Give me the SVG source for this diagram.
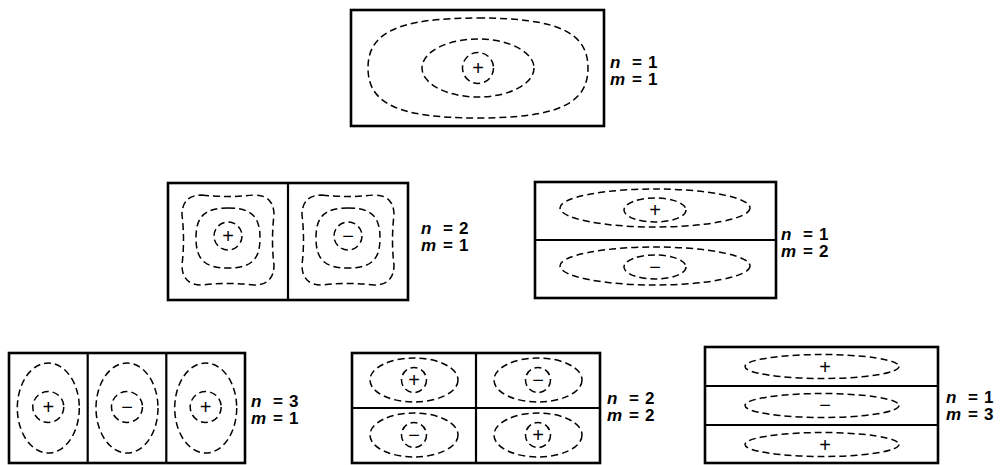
<svg xmlns="http://www.w3.org/2000/svg" width="1004" height="465" viewBox="0 0 1004 465">
<style>
.box{fill:none;stroke:#000;stroke-width:2.6}
.dv{stroke:#000;stroke-width:2.2}
.d{fill:none;stroke:#000;stroke-width:1.5;stroke-dasharray:7 4}
.s{font-family:"Liberation Sans",Arial,sans-serif;font-size:20px;text-anchor:middle;fill:#000}
.lb{font-family:"Liberation Sans",Arial,sans-serif;font-size:17px;font-weight:bold;fill:#000}
.it{font-style:italic}
</style>
<defs>
<path id="topOuter" class="d" d="M0,-50 C79,-50 110,-36 110,0 C110,36 79,50 0,50 C-79,50 -110,36 -110,0 C-110,-36 -79,-50 0,-50Z"/>
<ellipse id="topMid" class="d" cx="0" cy="0" rx="56" ry="29"/>
<circle id="c15" class="d" cx="0" cy="0" r="15.5"/>
<path id="sqOuter" class="d" d="M-26,-45 Q0,-42 26,-45 Q46,-45 46,-25 Q43,0 46,25 Q46,45 26,45 Q0,42 -26,45 Q-46,45 -46,25 Q-43,0 -46,-25 Q-46,-45 -26,-45Z"/>
<path id="sqMid" class="d" d="M0,-30 C23,-30 32,-22 32,0 C32,22 23,30 0,30 C-23,30 -32,22 -32,0 C-32,-22 -23,-30 0,-30Z"/>
<circle id="c14" class="d" cx="0" cy="0" r="14"/>
<ellipse id="mrOuter" class="d" cx="0" cy="0" rx="95" ry="19"/>
<ellipse id="mrInner" class="d" cx="0" cy="0" rx="31" ry="12"/>
<ellipse id="blOuter" class="d" cx="0" cy="0" rx="31" ry="45"/>
<ellipse id="bmOuter" class="d" cx="0" cy="0" rx="44" ry="22"/>
<circle id="c12" class="d" cx="0" cy="0" r="12.5"/>
<ellipse id="brOuter" class="d" cx="0" cy="0" rx="77" ry="12"/>
</defs>

<g id="mode-n1-m1">
<rect class="box" x="351" y="10" width="253" height="116"/>
<use href="#topOuter" x="478" y="68"/>
<use href="#topMid" x="478" y="68"/>
<use href="#c15" x="478" y="68"/>
<text class="s" x="478" y="75">+</text>
<text class="lb" x="610" y="68"><tspan class="it">n</tspan><tspan x="632">=</tspan><tspan x="648">1</tspan></text>
<text class="lb" x="610" y="85"><tspan class="it">m</tspan><tspan x="632">=</tspan><tspan x="648">1</tspan></text>
</g>

<g id="mode-n2-m1">
<rect class="box" x="168" y="183" width="240" height="117"/>
<line class="dv" x1="288" y1="183" x2="288" y2="300"/>
<use href="#sqOuter" x="228" y="240"/>
<use href="#sqMid" x="228" y="238"/>
<use href="#c14" x="228" y="236"/>
<text class="s" x="228" y="243">+</text>
<use href="#sqOuter" x="348" y="240"/>
<use href="#sqMid" x="348" y="238"/>
<use href="#c14" x="348" y="236"/>
<text class="s" x="348" y="242.5">−</text>
<text class="lb" x="421" y="234"><tspan class="it">n</tspan><tspan x="443">=</tspan><tspan x="459">2</tspan></text>
<text class="lb" x="421" y="251"><tspan class="it">m</tspan><tspan x="443">=</tspan><tspan x="459">1</tspan></text>
</g>

<g id="mode-n1-m2">
<rect class="box" x="535" y="182" width="241" height="116"/>
<line class="dv" x1="535" y1="240" x2="776" y2="240"/>
<use href="#mrOuter" x="655" y="208"/>
<use href="#mrInner" x="655" y="210"/>
<text class="s" x="655" y="217">+</text>
<use href="#mrOuter" x="655" y="266"/>
<use href="#mrInner" x="655" y="267"/>
<text class="s" x="655" y="273.5">−</text>
<text class="lb" x="781" y="240"><tspan class="it">n</tspan><tspan x="803">=</tspan><tspan x="819">1</tspan></text>
<text class="lb" x="781" y="257"><tspan class="it">m</tspan><tspan x="803">=</tspan><tspan x="819">2</tspan></text>
</g>

<g id="mode-n3-m1">
<rect class="box" x="9" y="353" width="236" height="110"/>
<line class="dv" x1="87.7" y1="353" x2="87.7" y2="463"/>
<line class="dv" x1="166.3" y1="353" x2="166.3" y2="463"/>
<use href="#blOuter" x="48.3" y="408"/>
<use href="#c15" x="48.3" y="407"/>
<text class="s" x="48.3" y="414">+</text>
<use href="#blOuter" x="127" y="408"/>
<use href="#c15" x="127" y="407"/>
<text class="s" x="127" y="413.5">−</text>
<use href="#blOuter" x="205.7" y="408"/>
<use href="#c15" x="205.7" y="407"/>
<text class="s" x="205.7" y="414">+</text>
<text class="lb" x="251" y="407"><tspan class="it">n</tspan><tspan x="273">=</tspan><tspan x="289">3</tspan></text>
<text class="lb" x="251" y="424"><tspan class="it">m</tspan><tspan x="273">=</tspan><tspan x="289">1</tspan></text>
</g>

<g id="mode-n2-m2">
<rect class="box" x="352" y="353" width="248" height="110"/>
<line class="dv" x1="476" y1="353" x2="476" y2="463"/>
<line class="dv" x1="352" y1="408" x2="600" y2="408"/>
<use href="#bmOuter" x="414" y="380"/>
<use href="#c12" x="414" y="380"/>
<text class="s" x="414" y="387">+</text>
<use href="#bmOuter" x="538" y="380"/>
<use href="#c12" x="538" y="380"/>
<text class="s" x="538" y="386.5">−</text>
<use href="#bmOuter" x="414" y="435"/>
<use href="#c12" x="414" y="435"/>
<text class="s" x="414" y="441.5">−</text>
<use href="#bmOuter" x="538" y="435"/>
<use href="#c12" x="538" y="435"/>
<text class="s" x="538" y="442">+</text>
<text class="lb" x="607" y="404"><tspan class="it">n</tspan><tspan x="629">=</tspan><tspan x="645">2</tspan></text>
<text class="lb" x="607" y="421"><tspan class="it">m</tspan><tspan x="629">=</tspan><tspan x="645">2</tspan></text>
</g>

<g id="mode-n1-m3">
<rect class="box" x="705" y="347" width="233" height="116"/>
<line class="dv" x1="705" y1="386" x2="938" y2="386"/>
<line class="dv" x1="705" y1="425" x2="938" y2="425"/>
<use href="#brOuter" x="822" y="366.5"/>
<text class="s" x="825" y="373.5">+</text>
<use href="#brOuter" x="822" y="405.5"/>
<text class="s" x="825" y="412">−</text>
<use href="#brOuter" x="822" y="444.5"/>
<text class="s" x="825" y="451.5">+</text>
<text class="lb" x="946" y="403"><tspan class="it">n</tspan><tspan x="968">=</tspan><tspan x="984">1</tspan></text>
<text class="lb" x="946" y="420"><tspan class="it">m</tspan><tspan x="968">=</tspan><tspan x="984">3</tspan></text>
</g>

<g id="connectors"/>
</svg>
